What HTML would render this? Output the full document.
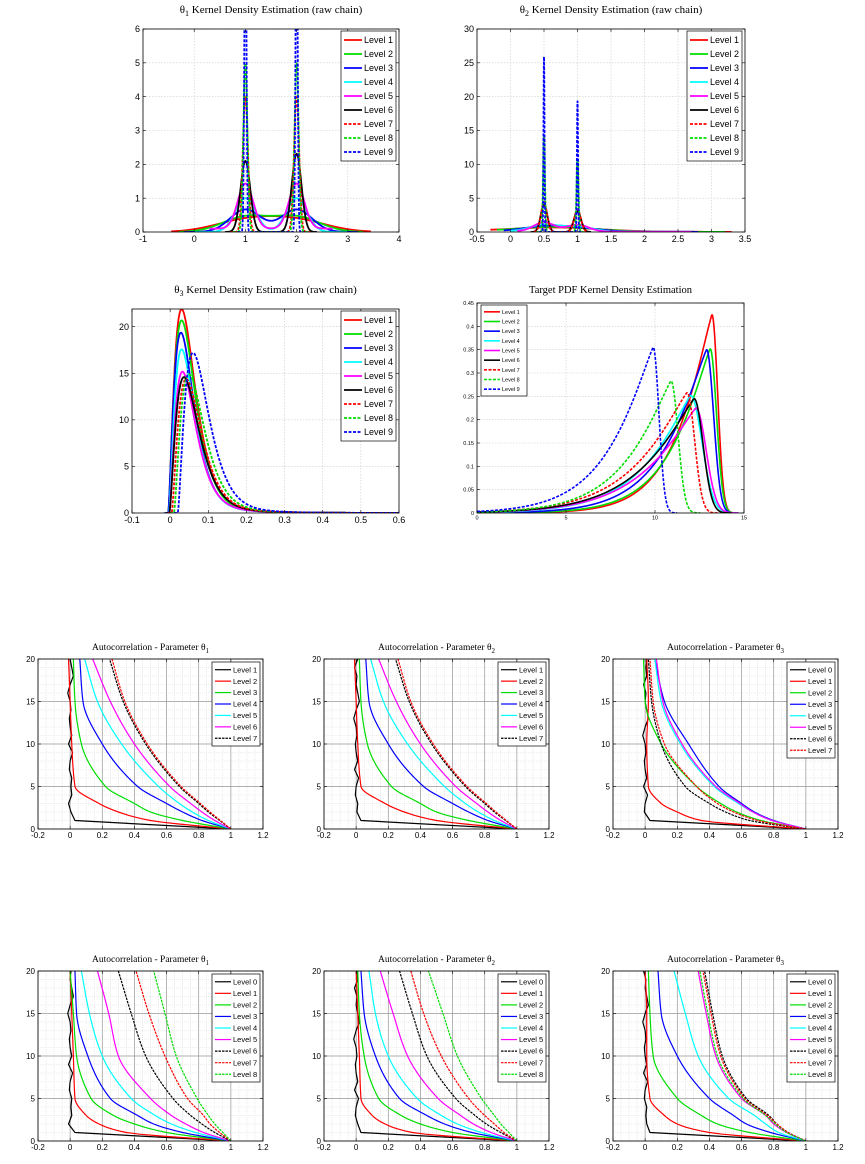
<!DOCTYPE html>
<html><head><meta charset="utf-8"><style>
html,body{margin:0;padding:0;background:#fff;}
svg{display:block;}
</style></head><body>
<svg id="s" xmlns="http://www.w3.org/2000/svg" width="865" height="1164" viewBox="0 0 865 1164"></svg>
<script>
const S=document.getElementById('s');
let html='';let cid=0;
function gauss(x,m,s){return Math.exp(-0.5*((x-m)/s)**2)/(s*2.5066);}
function P(o){
  const {l,t,w,h}=o;const X=v=>l+(v-o.xr[0])/(o.xr[1]-o.xr[0])*w;const Y=v=>t+h-(v-o.yr[0])/(o.yr[1]-o.yr[0])*h;
  let s='';cid++;
  s+=`<clipPath id="c${cid}"><rect x="${l}" y="${t}" width="${w}" height="${h}"/></clipPath>`;
  if(o.minor){
    for(let v=o.xr[0];v<=o.xr[1]+1e-9;v+=o.minor[0]){s+=`<line x1="${X(v)}" x2="${X(v)}" y1="${t}" y2="${t+h}" stroke="#ddd" stroke-width="0.6" stroke-dasharray="1,1"/>`;}
    for(let v=o.yr[0];v<=o.yr[1]+1e-9;v+=o.minor[1]){s+=`<line y1="${Y(v)}" y2="${Y(v)}" x1="${l}" x2="${l+w}" stroke="#ddd" stroke-width="0.6" stroke-dasharray="1,1"/>`;}
    o.xt.forEach(v=>s+=`<line x1="${X(v)}" x2="${X(v)}" y1="${t}" y2="${t+h}" stroke="#999" stroke-width="0.7"/>`);
    o.yt.forEach(v=>s+=`<line y1="${Y(v)}" y2="${Y(v)}" x1="${l}" x2="${l+w}" stroke="#999" stroke-width="0.7"/>`);
  }else{
    o.xt.forEach(v=>s+=`<line x1="${X(v)}" x2="${X(v)}" y1="${t}" y2="${t+h}" stroke="#ccc" stroke-width="0.6" stroke-dasharray="1.5,1.5"/>`);
    o.yt.forEach(v=>s+=`<line y1="${Y(v)}" y2="${Y(v)}" x1="${l}" x2="${l+w}" stroke="#ccc" stroke-width="0.6" stroke-dasharray="1.5,1.5"/>`);
  }
  s+=`<g clip-path="url(#c${cid})">`;
  o.series.forEach(se=>{
    const d=se.pts.map((p,i)=>(i?'L':'M')+X(p[0]).toFixed(2)+','+Y(p[1]).toFixed(2)).join('');
    s+=`<path d="${d}" fill="none" stroke="${se.c}" stroke-width="${se.w||o.lw}" ${se.d?`stroke-dasharray="${o.dash}"`:''} stroke-linejoin="round"/>`;
  });
  s+='</g>';
  s+=`<rect x="${l}" y="${t}" width="${w}" height="${h}" fill="none" stroke="#000" stroke-width="0.8"/>`;
  const fs=o.fs;
  o.xt.forEach((v,i)=>{s+=`<line x1="${X(v)}" x2="${X(v)}" y1="${t+h}" y2="${t+h-3}" stroke="#000" stroke-width="0.6"/><line x1="${X(v)}" x2="${X(v)}" y1="${t}" y2="${t+3}" stroke="#000" stroke-width="0.6"/>`;
    s+=`<text x="${X(v)}" y="${t+h+fs+1}" font-size="${fs}" text-anchor="middle">${o.xl[i]}</text>`;});
  o.yt.forEach((v,i)=>{s+=`<line x1="${l}" x2="${l+3}" y1="${Y(v)}" y2="${Y(v)}" stroke="#000" stroke-width="0.6"/><line x1="${l+w}" x2="${l+w-3}" y1="${Y(v)}" y2="${Y(v)}" stroke="#000" stroke-width="0.6"/>`;
    s+=`<text x="${l-3}" y="${Y(v)+fs*0.35}" font-size="${fs}" text-anchor="end">${o.yl[i]}</text>`;});
  s+=`<text x="${l+w/2}" y="${o.ty}" font-family="Liberation Serif,serif" font-size="${o.tfs}" text-anchor="middle">${o.title}</text>`;
  const L=o.leg;
  s+=`<rect x="${L.x}" y="${L.y}" width="${L.w}" height="${L.h}" fill="#fff" stroke="#000" stroke-width="0.7"/>`;
  const n2=L.lab.length;const step=(L.h-4)/n2;
  for(let i=0;i<n2;i++){const se=o.series[i];const yy=L.y+2+step*(i+0.5);
    s+=`<line x1="${L.x+3}" x2="${L.x+3+L.ll}" y1="${yy}" y2="${yy}" stroke="${se.c}" stroke-width="${o.lw}" ${se.d?`stroke-dasharray="${o.dash}"`:''}/>`;
    s+=`<text x="${L.x+5+L.ll}" y="${yy+L.fs*0.35}" font-size="${L.fs}">${L.lab[i]}</text>`;}
  html+=s;
}
const R='#f00',G='#0d0',B='#00f',C='#0ff',M='#f0f',K='#000';
const cols=[[R,0],[G,0],[B,0],[C,0],[M,0],[K,0],[R,1],[G,1],[B,1]];
function samp(f,a,b,n){const p=[];for(let i=0;i<=n;i++){const x=a+(b-a)*i/n;p.push([x,f(x)]);}return p;}
function lv(a,b){const r=[];for(let i=a;i<=b;i++)r.push('Level '+i);return r;}
// Plot 1
const sd1=[0.6,0.45,0.3,0.2,0.15,0.095,0.05,0.04,0.02];
const sup1=[[-0.45,3.45],[-0.3,3.3],[-0.2,3.2],[0.0,3.0],[0.3,2.7],[0.6,2.4],[0.7,2.3],[0.75,2.25],[0.85,2.15]];
P({l:143,t:29,w:256,h:203,xr:[-1,4],yr:[0,6],xt:[-1,0,1,2,3,4],xl:['-1','0','1','2','3','4'],yt:[0,1,2,3,4,5,6],yl:['0','1','2','3','4','5','6'],fs:9,lw:1.8,dash:'3,1.5',
 series:cols.map((c,i)=>({c:c[0],d:c[1],pts:samp(x=>0.5*gauss(x,1,sd1[i])+0.5*gauss(x,2,sd1[i])*(i==5?1.1:1)+(i==4?0.1:0),sup1[i][0],sup1[i][1],1500)})),
 title:'θ<tspan font-size="8" dy="3">1</tspan><tspan dy="-3"> Kernel Density Estimation (raw chain)</tspan>',ty:13,tfs:11,
 leg:{x:341,y:31,w:55,h:130,ll:18,fs:9,lab:lv(1,9)}});
// Plot 2
const sd2=[0.55,0.45,0.3,0.2,0.15,0.05,0.045,0.014,0.0077];
const sup2=[[-0.3,3.3],[-0.2,3.2],[-0.1,2.8],[0,2.7],[0.1,2.7],[0.3,1.2],[0.35,1.15],[0.38,1.12],[0.42,1.08]];
P({l:477,t:29,w:268,h:203,xr:[-0.5,3.5],yr:[0,30],xt:[-0.5,0,0.5,1,1.5,2,2.5,3,3.5],xl:['-0.5','0','0.5','1','1.5','2','2.5','3','3.5'],yt:[0,5,10,15,20,25,30],yl:['0','5','10','15','20','25','30'],fs:9,lw:1.8,dash:'3,1.5',
 series:cols.map((c,i)=>({c:c[0],d:c[1],pts:samp(x=>0.5*gauss(x,0.5,sd2[i])+0.41*gauss(x,1,sd2[i]*1.1)+(i<5?0.15*Math.exp(-x/1.5):0),sup2[i][0],sup2[i][1],3000)})),
 title:'θ<tspan font-size="8" dy="3">2</tspan><tspan dy="-3"> Kernel Density Estimation (raw chain)</tspan>',ty:13,tfs:11,
 leg:{x:687,y:31,w:55,h:130,ll:18,fs:9,lab:lv(1,9)}});
// Plot 3
const p3=[[21,0.03,-0.005],[19.8,0.03,-0.005],[18.5,0.028,-0.005],[16.7,0.03,-0.003],[14.3,0.032,-0.002],[13.7,0.036,-0.002],[13.5,0.042,0.004],[14,0.049,0.01],[16.3,0.06,0.02]];
P({l:132,t:309,w:267,h:204,xr:[-0.1,0.6],yr:[0,21.9],xt:[-0.1,0,0.1,0.2,0.3,0.4,0.5,0.6],xl:['-0.1','0','0.1','0.2','0.3','0.4','0.5','0.6'],yt:[0,5,10,15,20],yl:['0','5','10','15','20'],fs:9,lw:1.8,dash:'3,1.5',
 series:cols.map((c,i)=>{const [pk,m,x0]=p3[i];return {c:c[0],d:c[1],pts:samp(x=>{if(x<=x0)return 0;const u=(x-x0)/(m-x0);return pk*Math.pow(u*Math.exp(1-u),1.6)+1.8*Math.exp(-(x-x0)/0.1)*(1-Math.exp(-(x-x0)/0.03));},x0-0.01,0.6,600)};}),
 title:'θ<tspan font-size="8" dy="3">3</tspan><tspan dy="-3"> Kernel Density Estimation (raw chain)</tspan>',ty:293,tfs:11,
 leg:{x:341,y:311,w:55,h:130,ll:18,fs:9,lab:lv(1,9)}});
// Plot 4
const p4=[[0.425,13.2,2.1,0.45],[0.352,13.1,2.3,0.5],[0.35,12.9,2.5,0.55],[0.252,12.0,2.8,0.9],[0.225,12.3,3.1,0.8],[0.245,12.2,3.1,0.7],[0.258,11.8,3.1,0.6],[0.283,10.9,2.7,0.55],[0.355,9.9,2.6,0.45]];
P({l:477,t:303,w:267,h:210,xr:[0,15],yr:[0,0.45],xt:[0,5,10,15],xl:['0','5','10','15'],yt:[0,0.05,0.1,0.15,0.2,0.25,0.3,0.35,0.4,0.45],yl:['0','0.05','0.1','0.15','0.2','0.25','0.3','0.35','0.4','0.45'],fs:5.5,lw:1.6,dash:'3,1.5',
 series:cols.map((c,i)=>{const [pk,m,s,r]=p4[i];return {c:c[0],d:c[1],pts:samp(x=>x<m?pk*Math.exp(-Math.pow((m-x)/s,1.15)):pk*Math.exp(-(((x-m)/r)**2)),0,Math.min(15,m+3*r),600)};}),
 title:'Target PDF Kernel Density Estimation',ty:293,tfs:10.5,
 leg:{x:481,y:305,w:46,h:91,ll:16,fs:5.5,lab:lv(1,9)}});
// Autocorrelation
const LG=[0,1,2,3,5,10,15,20];
function ac(v){
  // piecewise cubic hermite (monotone-ish) through points
  const n=LG.length;const m=[];
  for(let i=0;i<n;i++){
    if(i==0)m.push((v[1]-v[0])/(LG[1]-LG[0]));
    else if(i==n-1)m.push((v[n-1]-v[n-2])/(LG[n-1]-LG[n-2]));
    else{const d0=(v[i]-v[i-1])/(LG[i]-LG[i-1]),d1=(v[i+1]-v[i])/(LG[i+1]-LG[i]);m.push(d0*d1<=0?0:2/(1/d0+1/d1));}
  }
  const p=[];
  for(let k=0;k<=20.001;k+=0.2){let j=0;while(j<n-2&&LG[j+1]<k)j++;const a=LG[j],b=LG[j+1],hh=b-a,t=(k-a)/hh;
    const h00=2*t*t*t-3*t*t+1,h10=t*t*t-2*t*t+t,h01=-2*t*t*t+3*t*t,h11=t*t*t-t*t;
    p.push([h00*v[j]+h10*hh*m[j]+h01*v[j+1]+h11*hh*m[j+1],k]);}
  return p;}
function noise(seed){const p=[[1,0],[0.03,1]];const v=[0.01,0.0,0.005,-0.01,0.01,0.005,0.01,-0.005,0.0,0.015,-0.01,0.01,0.0,-0.005,0.005,0,-0.015,0.0,0.02];for(let k=2;k<=20;k++)p.push([v[(k+seed)%v.length],k]);return p;}
function A(l,t,tsub,series,labs,legH){
  P({l:l,t:t,w:225,h:170,xr:[-0.2,1.2],yr:[0,20],xt:[-0.2,0,0.2,0.4,0.6,0.8,1,1.2],xl:['-0.2','0','0.2','0.4','0.6','0.8','1','1.2'],yt:[0,5,10,15,20],yl:['0','5','10','15','20'],fs:8,lw:1.2,dash:'2.5,1',minor:[0.05,1],
  series:series,title:'Autocorrelation - Parameter θ<tspan font-size="7" dy="3">'+tsub+'</tspan>',ty:t-9,tfs:9.5,
  leg:{x:l+174,y:t+3,w:48,h:legH,ll:16,fs:7.5,lab:labs}});
}
const r1a=[
 {c:K,pts:noise(0)},
 {c:R,pts:ac([1,0.5,0.3,0.18,0.03,0.01,0.0,-0.01])},
 {c:G,pts:ac([1,0.7,0.5,0.4,0.22,0.07,0.03,0.02])},
 {c:B,pts:ac([1,0.82,0.7,0.6,0.42,0.2,0.08,0.06])},
 {c:C,pts:ac([1,0.86,0.76,0.68,0.55,0.32,0.17,0.09])},
 {c:M,pts:ac([1,0.9,0.82,0.75,0.62,0.4,0.25,0.14])},
 {c:K,d:1,pts:ac([1,0.93,0.86,0.8,0.68,0.47,0.33,0.245])},
 {c:R,d:1,pts:ac([1,0.935,0.87,0.81,0.69,0.48,0.34,0.26])}];
const r1b=r1a.map((s,i)=>i==0?{c:K,pts:noise(3)}:s);
const r1c=[
 {c:K,pts:noise(5)},
 {c:R,pts:ac([1,0.35,0.2,0.1,0.02,0.01,0.02,0.01])},
 {c:G,pts:ac([1,0.72,0.57,0.47,0.32,0.1,0.0,-0.01])},
 {c:B,pts:ac([1,0.8,0.68,0.6,0.46,0.27,0.12,0.06])},
 {c:C,pts:ac([1,0.79,0.67,0.58,0.43,0.22,0.1,0.06])},
 {c:M,pts:ac([1,0.79,0.67,0.59,0.44,0.23,0.11,0.07])},
 {c:K,d:1,pts:ac([1,0.65,0.5,0.4,0.25,0.1,0.04,0.02])},
 {c:R,d:1,pts:ac([1,0.7,0.55,0.45,0.32,0.12,0.05,0.03])}];
A(38,659,'1',r1a,lv(1,7),84);
A(324,659,'2',r1b,lv(1,7),84);
A(613,659,'3',r1c,lv(0,7),96);
const r3a=[
 {c:K,pts:noise(1)},
 {c:R,pts:ac([1,0.35,0.18,0.1,0.03,0.02,0.01,0.0])},
 {c:G,pts:ac([1,0.6,0.4,0.27,0.13,0.04,0.02,0.0])},
 {c:B,pts:ac([1,0.7,0.52,0.42,0.25,0.11,0.04,0.03])},
 {c:C,pts:ac([1,0.78,0.63,0.53,0.38,0.2,0.12,0.07])},
 {c:M,pts:ac([1,0.83,0.72,0.63,0.5,0.3,0.24,0.17])},
 {c:K,d:1,pts:ac([1,0.9,0.82,0.75,0.64,0.47,0.38,0.3])},
 {c:R,d:1,pts:ac([1,0.93,0.87,0.83,0.73,0.59,0.49,0.41])},
 {c:G,d:1,pts:ac([1,0.95,0.9,0.86,0.79,0.66,0.59,0.52])}];
const r3b=[
 {c:K,pts:noise(4)},
 {c:R,pts:ac([1,0.35,0.18,0.1,0.03,0.02,0.01,0.0])},
 {c:G,pts:ac([1,0.6,0.4,0.28,0.14,0.05,0.02,0.01])},
 {c:B,pts:ac([1,0.72,0.55,0.44,0.27,0.12,0.05,0.03])},
 {c:C,pts:ac([1,0.78,0.63,0.53,0.38,0.2,0.12,0.08])},
 {c:M,pts:ac([1,0.84,0.73,0.65,0.51,0.32,0.23,0.15])},
 {c:K,d:1,pts:ac([1,0.9,0.81,0.74,0.62,0.44,0.35,0.27])},
 {c:R,d:1,pts:ac([1,0.92,0.86,0.8,0.7,0.53,0.42,0.34])},
 {c:G,d:1,pts:ac([1,0.95,0.9,0.86,0.78,0.63,0.54,0.45])}];
const r3c=[
 {c:K,pts:noise(2)},
 {c:R,pts:ac([1,0.4,0.2,0.12,0.03,0.01,0.01,0.0])},
 {c:G,pts:ac([1,0.65,0.45,0.35,0.2,0.05,0.03,0.02])},
 {c:B,pts:ac([1,0.78,0.63,0.55,0.4,0.2,0.1,0.08])},
 {c:C,pts:ac([1,0.83,0.75,0.68,0.52,0.33,0.25,0.18])},
 {c:M,pts:ac([1,0.88,0.8,0.75,0.6,0.44,0.38,0.33])},
 {c:K,d:1,pts:ac([1,0.89,0.82,0.77,0.63,0.48,0.42,0.37])},
 {c:R,d:1,pts:ac([1,0.89,0.82,0.76,0.62,0.47,0.41,0.36])},
 {c:G,d:1,pts:ac([1,0.88,0.81,0.75,0.61,0.45,0.39,0.34])}];
A(38,971,'1',r3a,lv(0,8),108);
A(324,971,'2',r3b,lv(0,8),108);
A(613,971,'3',r3c,lv(0,8),108);
S.innerHTML='<g font-family="Liberation Sans, sans-serif" fill="#000">'+html.replace(/<text /g,'<text fill="#000" ')+'</g>';
</script>
</body></html>
